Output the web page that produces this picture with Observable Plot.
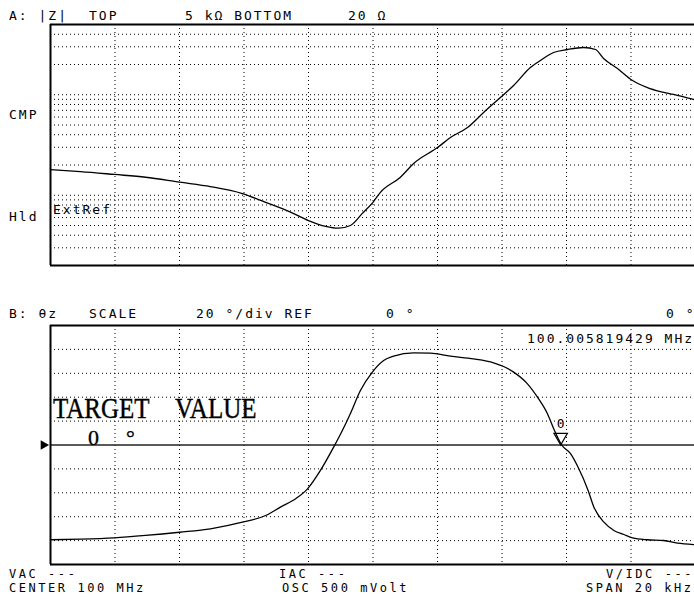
<!DOCTYPE html>
<html><head><meta charset="utf-8">
<script src="https://cdn.jsdelivr.net/npm/d3@7"></script>
<script src="https://cdn.jsdelivr.net/npm/@observablehq/plot@0.6"></script>
<style>
html,body{margin:0;padding:0;background:#fff;}
#wrap{position:relative;width:694px;height:599px;overflow:hidden;background:#fff;}
#wrap svg{position:absolute;left:0;}
</style></head><body><div id="wrap"></div>
<script>
// ---- data (frequency offset from 100 MHz centre, kHz) ----
const freqZ = [-10, -9.07, -8.02, -7.05, -6.0, -5.04, -4.05, -3.33, -2.56, -2.0, -1.47, -1.07, -0.70, -0.33, 0.0, 0.23, 0.85, 1.26, 2.0, 2.40, 2.93, 3.43, 3.95, 4.36, 4.88, 5.19, 5.60, 6.03, 6.53, 6.90, 7.15, 7.58, 8.05, 8.51, 8.91, 9.32, 9.94];
const magZ = [180, 172, 161, 151, 135, 122, 104, 85, 68, 56, 49, 47, 50, 66, 85, 107, 151, 207, 298, 375, 472, 666, 939, 1236, 1867, 2192, 2632, 2820, 2952, 2820, 2294, 1825, 1386, 1180, 1077, 1006, 897];
const freqTheta = [-10, -9.07, -8.02, -7.05, -6.0, -5.04, -4.05, -3.33, -2.87, -2.40, -2.03, -1.63, -1.22, -0.95, -0.70, -0.39, -0.02, 0.33, 0.64, 1.26, 1.78, 2.40, 3.12, 3.74, 4.05, 4.36, 4.79, 5.10, 5.41, 5.60, 5.85, 6.12, 6.36, 6.67, 6.85, 7.16, 7.47, 7.78, 8.05, 8.51, 9.01, 9.44, 9.94];
const thetaDeg = [-79.3, -78.8, -77.7, -75.7, -73, -70.1, -64.6, -59, -52, -45, -36.7, -21.3, -1.8, 12.1, 26.4, 45.6, 61, 70.7, 74.3, 77.1, 76.8, 74.3, 72.1, 68.8, 65.7, 61, 51.2, 40, 26.1, 13.8, 0, -7, -18.6, -38, -52, -64.6, -71.5, -74.9, -77.7, -79.3, -79.9, -82.2, -83.3];
const spanKHz = [-10, 10];
const zRange = [20, 5000];
const thetaRange = [-100, 100];
const freqGridKHz = [-8, -6, -4, -2, 0, 2, 4, 6, 8];
const zGridOhm = [30, 40, 50, 60, 70, 80, 90, 100, 200, 300, 400, 500, 600, 700, 800, 900, 1000, 2000, 3000, 4000];
const thetaGridDeg = [-80, -60, -40, -20, 20, 40, 60, 80];
const targetValue = [0];
const markerFreqKHz = [5.819429];
const markerLabel = ["0"];

// ---- texts ----
const headerA = ["A: |Z|", "TOP", "5 kΩ BOTTOM", "20 Ω"];
const sideLabels = ["CMP", "Hld"];
const refLabel = ["ExtRef"];
const headerB = ["B: θz", "SCALE", "20 °/div REF", "0 °", "0 °"];
const markerReadout = ["100.005819429 MHz"];
const targetText = ["TARGET", "VALUE"];
const targetValueText = ["0", "°"];
const footer = ["VAC ---", "CENTER 100 MHz", "IAC ---", "OSC 500 mVolt", "V/IDC ---", "SPAN 20 kHz"];

const wrap = document.getElementById("wrap");
const dotted = {stroke: "#000", strokeWidth: 1, strokeDasharray: "1,3"};
const border = {stroke: "#000", strokeWidth: 2};

const zData = freqZ.map((f, i) => ({f, z: magZ[i]}));
const tData = freqTheta.map((f, i) => ({f, t: thetaDeg[i]}));

const topPlot = Plot.plot({
  width: 694, height: 290,
  marginTop: 24, marginBottom: 25, marginLeft: 50, marginRight: -1,
  x: {domain: spanKHz, axis: null},
  y: {type: "log", domain: zRange, axis: null},
  style: {background: "none"},
  marks: [
    Plot.ruleX(freqGridKHz, dotted),
    Plot.ruleY(zGridOhm, dotted),
    Plot.line(zData, {x: "f", y: "z", stroke: "#000", strokeWidth: 1.3, curve: "monotone-x"}),
    Plot.ruleX([spanKHz[0]], border),
    Plot.ruleY(zRange, border)
  ]
});
topPlot.style.top = "0px";
wrap.appendChild(topPlot);

const botPlot = Plot.plot({
  width: 694, height: 309,
  marginTop: 35, marginBottom: 35, marginLeft: 50, marginRight: -1,
  x: {domain: spanKHz, axis: null},
  y: {domain: thetaRange, axis: null},
  style: {background: "none"},
  marks: [
    Plot.ruleX(freqGridKHz, dotted),
    Plot.ruleY(thetaGridDeg, dotted),
    Plot.ruleY(targetValue, {stroke: "#222", strokeWidth: 1.6}),
    Plot.line(tData, {x: "f", y: "t", stroke: "#000", strokeWidth: 1.3, curve: "monotone-x"}),
    Plot.ruleX([spanKHz[0]], border),
    Plot.ruleY(thetaRange, border),
    Plot.dot(targetValue, {x: () => spanKHz[0], y: d => d, symbol: "triangle", rotate: 90, r: 3.6, fill: "#000", stroke: "none", dx: -7}),
    Plot.dot(markerFreqKHz, {x: d => d, y: () => targetValue[0], symbol: "triangle", rotate: 180, r: 5, fill: "none", stroke: "#000", strokeWidth: 1.2, dy: -7.8}),
    Plot.text(markerFreqKHz, {x: d => d, y: () => targetValue[0], text: (d, i) => markerLabel[i], dy: -21.5, fontFamily: "DejaVu Sans Mono", fontSize: 13, fill: "#000"})
  ]
});
botPlot.style.top = "290px";
wrap.appendChild(botPlot);

// ---- overlay of instrument annotations ----
const ov = d3.select(wrap).append("svg")
  .attr("width", 694).attr("height", 599)
  .style("top", "0px").style("pointer-events", "none");

function mono(txt, x, y, size = 13, ls = 2) {
  ov.append("text").attr("x", x).attr("y", y)
    .attr("font-family", "'DejaVu Sans Mono', monospace").attr("font-size", size)
    .attr("letter-spacing", ls).style("white-space", "pre").attr("fill", "#000").text(txt);
}
mono(headerA[0], 9, 20); mono(headerA[1], 89, 20); mono(headerA[2], 185, 20); mono(headerA[3], 348, 20);
mono(sideLabels[0], 9, 119); mono(sideLabels[1], 9, 221);
mono(refLabel[0], 53, 214);
mono(headerB[0], 9, 318); mono(headerB[1], 89, 318); mono(headerB[2], 196, 318); mono(headerB[3], 386, 318); mono(headerB[4], 666, 318);
mono(markerReadout[0], 527, 343);
mono(footer[0], 9, 578, 12, 2.55); mono(footer[1], 9, 592, 12, 2.55);
mono(footer[2], 279, 578, 12, 2.55); mono(footer[3], 282, 592, 12, 2.55);
mono(footer[4], 606, 578, 12, 2.55); mono(footer[5], 586, 592, 12, 2.55);

function serif(txt, x, y, size, sy) {
  ov.append("text").attr("transform", `translate(${x},${y}) scale(1,${sy})`)
    .attr("font-family", "'Liberation Serif', serif").attr("font-size", size)
    .attr("fill", "#000").attr("stroke", "#000").attr("stroke-width", 0.35).text(txt);
}
serif(targetText[0], 53, 418, 25, 1.15);
serif(targetText[1], 175, 418, 25, 1.15);
serif(targetValueText[0], 88, 445, 22, 1);
serif(targetValueText[1], 126, 445, 22, 1);
</script></body></html>
